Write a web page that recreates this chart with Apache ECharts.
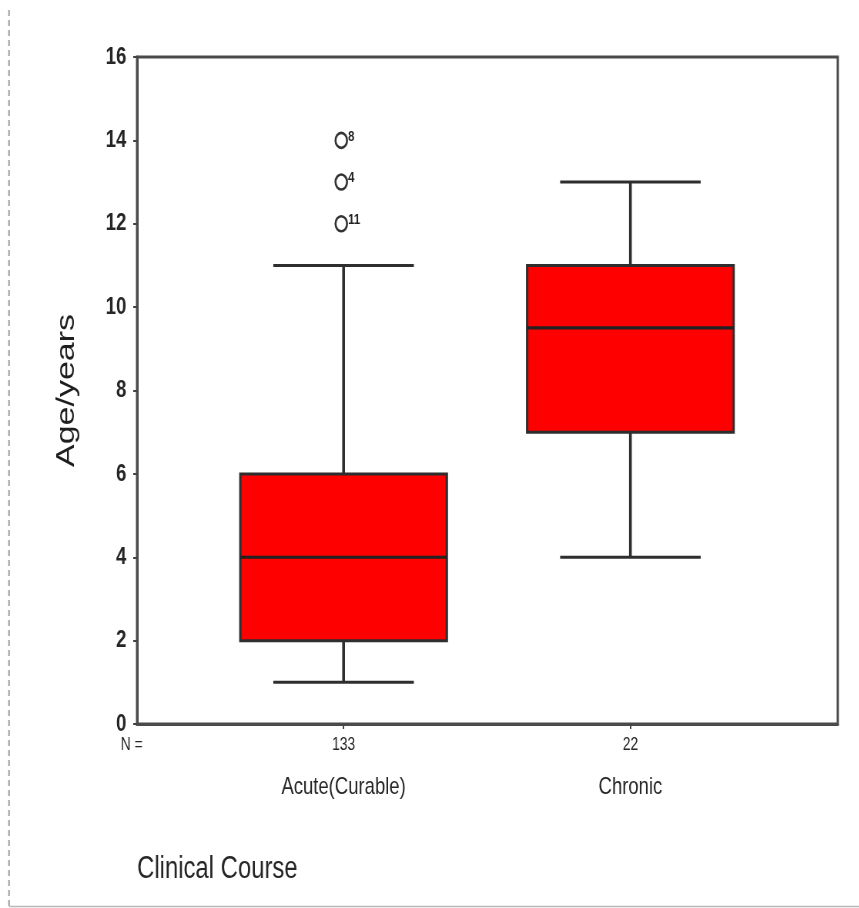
<!DOCTYPE html>
<html>
<head>
<meta charset="utf-8">
<script src="https://cdn.jsdelivr.net/npm/echarts@6/dist/echarts.min.js"></script>
<style>
  html, body { margin: 0; padding: 0; background: #fff; overflow: hidden; }
  #wrap { width: 859px; height: 908px; overflow: hidden; }
  /* the figure is laid out wide and squeezed horizontally, like the condensed SPSS export */
  #chart { width: 1116px; height: 908px; transform: scaleX(0.77); transform-origin: 0 0; }
</style>
</head>
<body>
<div id="wrap"><div id="chart"></div></div>
<script>
// Clinical course groups and their age summaries (years)
const categories   = ['Acute(Curable)', 'Chronic'];
const sampleSizes  = [133, 22];
const whiskerLow   = [1, 4];
const quartile1    = [2, 7];
const medians      = [4, 9.5];
const quartile3    = [6, 11];
const whiskerHigh  = [11, 13];

// Outlying cases in the acute group: age and case number
const outlierAges  = [12, 13, 14];
const outlierCases = ['11', '4', '8'];

const yTicks = [0, 2, 4, 6, 8, 10, 12, 14, 16];

const FONT = 'Liberation Sans, Arial, sans-serif';
const INK = '#262626';

const chart = echarts.init(document.getElementById('chart'));

const boxData = categories.map((c, i) => [
  i + 1, whiskerLow[i], quartile1[i], medians[i], quartile3[i], whiskerHigh[i]
]);
const outlierData = outlierAges.map((v, i) => ({ value: [1, v], caseNo: outlierCases[i] }));

function renderBox(params, api) {
  const x = api.value(0);
  const low = api.coord([x, api.value(1)]);
  const q1 = api.coord([x, api.value(2)]);
  const med = api.coord([x, api.value(3)]);
  const q3 = api.coord([x, api.value(4)]);
  const high = api.coord([x, api.value(5)]);
  const halfBox = api.size([0.36, 0])[0];
  const halfCap = api.size([0.245, 0])[0];
  const cx = q1[0];
  const hStyle = { stroke: '#2e2e2e', lineWidth: 3 };
  const vStyle = { stroke: '#2e2e2e', lineWidth: 3.6 };
  return {
    type: 'group',
    children: [
      { type: 'line', shape: { x1: cx, y1: q3[1], x2: cx, y2: high[1] }, style: vStyle },
      { type: 'line', shape: { x1: cx, y1: q1[1], x2: cx, y2: low[1] }, style: vStyle },
      { type: 'line', shape: { x1: cx - halfCap, y1: high[1], x2: cx + halfCap, y2: high[1] }, style: hStyle },
      { type: 'line', shape: { x1: cx - halfCap, y1: low[1], x2: cx + halfCap, y2: low[1] }, style: hStyle },
      { type: 'rect', shape: { x: cx - halfBox, y: q3[1], width: halfBox * 2, height: q1[1] - q3[1] },
        style: { fill: '#ff0000', stroke: '#2e2e2e', lineWidth: 3 } },
      { type: 'line', shape: { x1: cx - halfBox, y1: med[1], x2: cx + halfBox, y2: med[1] },
        style: { stroke: '#222', lineWidth: 3.2 } }
    ]
  };
}

chart.setOption({
  backgroundColor: '#fff',
  animation: false,
  title: {
    text: 'Clinical Course',
    left: 178,
    top: 854,
    padding: 0,
    textStyle: { fontFamily: FONT, fontSize: 31, fontWeight: 'normal', color: INK }
  },
  grid: {
    left: 178, right: 28, top: 57, bottom: 184,
    show: true, borderColor: '#4a4a4a', borderWidth: 3,
    outerBoundsMode: 'none'
  },
  xAxis: {
    type: 'value',
    min: 0.28, max: 2.723,
    splitLine: { show: false },
    axisLine: { show: true, onZero: false, lineStyle: { color: '#4a4a4a', width: 3 } },
    axisTick: { show: true, customValues: [1, 2], length: 5, lineStyle: { color: '#444', width: 2 } },
    axisLabel: {
      show: true,
      customValues: [1, 2],
      margin: 10,
      formatter: v => '{n|' + sampleSizes[v - 1] + '}\n{c|' + categories[v - 1] + '}',
      rich: {
        n: { fontFamily: FONT, fontSize: 18, lineHeight: 22, color: INK },
        c: { fontFamily: FONT, fontSize: 24, lineHeight: 62, color: INK }
      }
    }
  },
  yAxis: {
    type: 'value',
    min: 0, max: 16, interval: 2,
    name: 'Age/years',
    nameLocation: 'middle',
    nameGap: 74,
    nameTextStyle: { fontFamily: FONT, fontSize: 34, color: '#1e1e1e' },
    splitLine: { show: false },
    axisLine: { show: true, lineStyle: { color: '#4a4a4a', width: 3 } },
    axisTick: { show: true, length: 5, lineStyle: { color: '#444', width: 2 } },
    axisLabel: {
      margin: 14,
      fontFamily: FONT, fontSize: 24, fontWeight: 'bold', color: INK,
      formatter: v => (yTicks.indexOf(v) >= 0 ? String(v) : '')
    }
  },
  graphic: [
    { type: 'line', silent: true, shape: { x1: 11.7, y1: 10, x2: 11.7, y2: 906 },
      style: { stroke: '#9a9a9a', lineWidth: 2, lineDash: [6, 4] } },
    { type: 'line', silent: true, shape: { x1: 11.7, y1: 906.5, x2: 1116, y2: 906.5 },
      style: { stroke: '#b8b8b8', lineWidth: 1.5 } },
    { type: 'text', silent: true, x: 171, y: 745,
      style: { text: 'N =', fontFamily: FONT, fontSize: 18, fill: INK, align: 'center', verticalAlign: 'middle' } }
  ],
  series: [
    {
      type: 'custom',
      renderItem: renderBox,
      data: boxData,
      encode: { x: 0, y: [1, 2, 3, 4, 5] },
      z: 2
    },
    {
      type: 'scatter',
      data: outlierData,
      symbol: 'circle',
      symbolSize: 15,
      symbolOffset: [-3, 0],
      itemStyle: { color: 'rgba(255,255,255,0)', borderColor: '#333', borderWidth: 2.6, opacity: 1 },
      label: {
        show: true,
        position: 'right',
        distance: 0,
        offset: [0, -4],
        formatter: p => p.data.caseNo,
        fontFamily: FONT, fontSize: 15, fontWeight: 'bold', color: '#222'
      },
      z: 3
    }
  ]
});
</script>
</body>
</html>
